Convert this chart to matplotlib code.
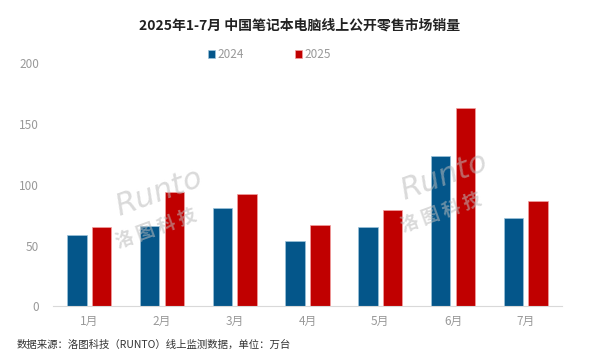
import numpy as np
import matplotlib.pyplot as plt

plt.rcParams['font.family'] = ['Noto Sans CJK SC', 'DejaVu Sans']

months = ["1月", "2月", "3月", "4月", "5月", "6月", "7月"]
sales_2024 = [59, 66, 81, 54, 65, 124, 73]
sales_2025 = [65, 94, 92, 67, 79, 163, 87]

blue = "#04568A"
red = "#C00000"

fig = plt.figure(figsize=(6, 3.63), dpi=100)
ax = fig.add_axes([0.088, 0.156, 0.849, 0.67])

x = np.arange(len(months))
w = 0.27
ax.bar(x - 0.17, sales_2024, width=w, color=blue, edgecolor="#9CC3DA", linewidth=0.5, label="2024")
ax.bar(x + 0.17, sales_2025, width=w, color=red, edgecolor="#F2A0A0", linewidth=0.5, label="2025")

ax.set_xlim(-0.5, len(months) - 0.5)
ax.set_ylim(0, 200)
ax.set_yticks([0, 50, 100, 150, 200])
ax.set_xticks(x)
ax.set_xticklabels(months)
ax.tick_params(axis="both", length=0, colors="#999999", labelsize=8.5)
ax.tick_params(axis="y", pad=10)
ax.tick_params(axis="x", pad=6)
for s in ["top", "right", "left"]:
    ax.spines[s].set_visible(False)
ax.spines["bottom"].set_color("#D9D9D9")

# watermark
for cx, cy in [(0.265, 0.43), (0.74, 0.475)]:
    fig.text(cx, cy + 0.04, "Runto", fontsize=22, style="italic", color="#BBBBBB",
             alpha=0.55, rotation=20, ha="center", va="center", family="DejaVu Sans")
    fig.text(cx - 0.005, cy - 0.06, "洛 图 科 技", fontsize=13, fontweight="bold", color="#BBBBBB",
             alpha=0.55, rotation=20, ha="center", va="center")

fig.text(0.5, 0.93, "2025年1-7月 中国笔记本电脑线上公开零售市场销量", ha="center", va="center",
         fontsize=10, fontweight="bold", color="#222222")

ax.legend(loc="center", bbox_to_anchor=(0.425, 1.035), ncol=2, frameon=False,
          handlelength=0.6, handleheight=0.6, handletextpad=0.2, columnspacing=4.3,
          fontsize=8.5, labelcolor="#999999")

fig.text(0.027, 0.05, "数据来源：洛图科技（RUNTO）线上监测数据，单位：万台", ha="left", va="center",
         fontsize=7.5, color="#333333")

plt.savefig("out.png", dpi=100, facecolor="white")
